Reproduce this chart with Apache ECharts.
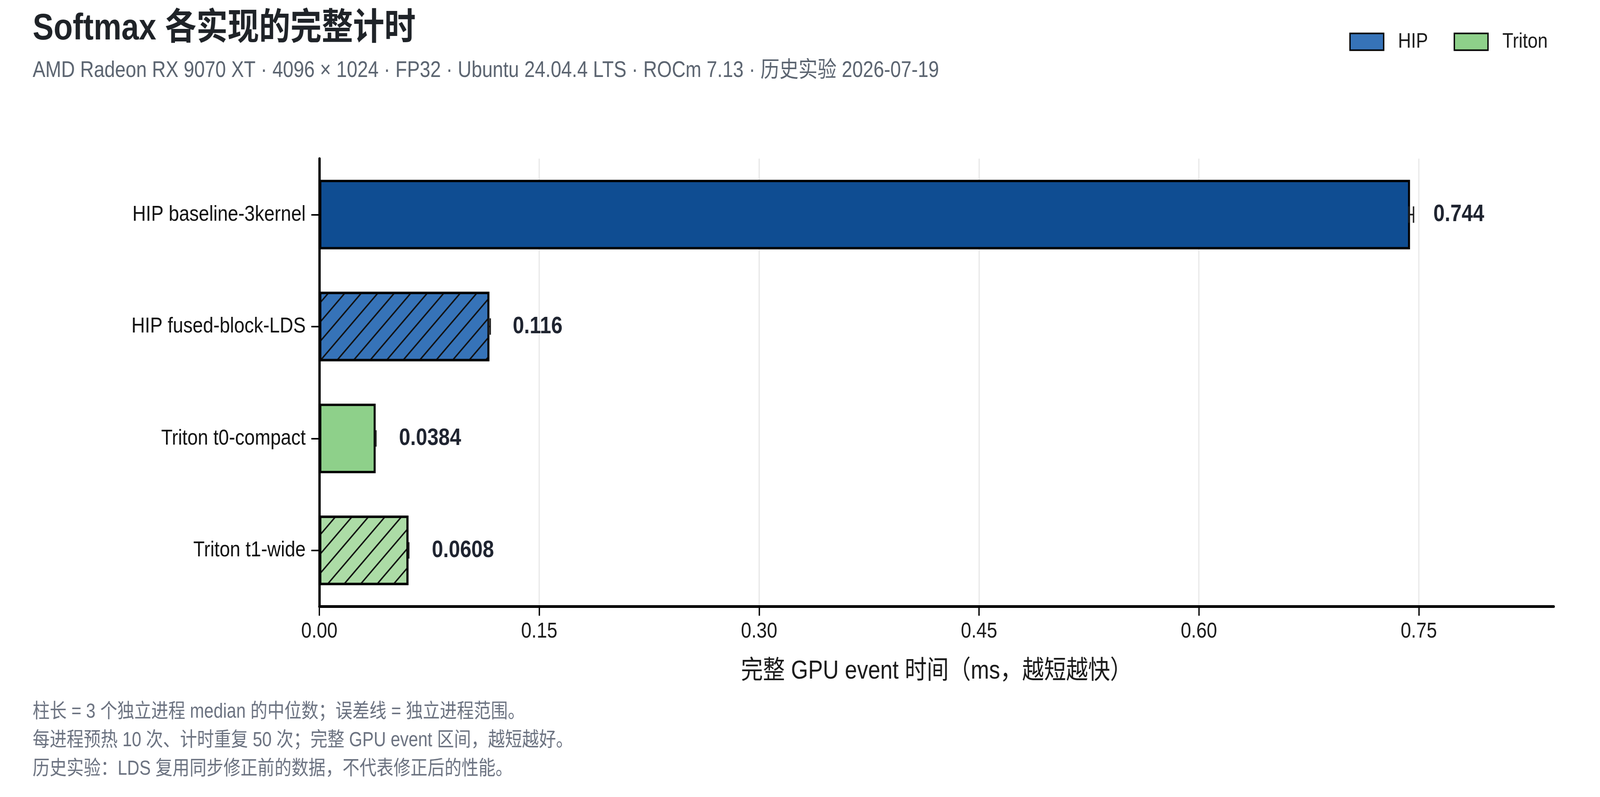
<!DOCTYPE html>
<html>
<head>
<meta charset="utf-8">
<title>Softmax 各实现的完整计时</title>
<script src="https://cdn.jsdelivr.net/npm/echarts@6/dist/echarts.min.js"></script>
<style>
    html, body { margin: 0; padding: 0; background: #ffffff; overflow: hidden; }
    #chart { width: 4800px; height: 2040px; transform-origin: 0 0; }
</style>
</head>
<body>
<div id="chart"></div>
<script>
    // 数据
    var categories = ['HIP baseline-3kernel', 'HIP fused-block-LDS', 'Triton t0-compact', 'Triton t1-wide'];
    var groups = ['HIP', 'HIP', 'Triton', 'Triton'];
    var medians = [0.744, 0.116, 0.0384, 0.0608];
    var valueLabels = ['0.744', '0.116', '0.0384', '0.0608'];
    var errLow = [0.7432, 0.1153, 0.0381, 0.0606];
    var errHigh = [0.7464, 0.1166, 0.0386, 0.0610];
    var xTicks = [0, 0.15, 0.30, 0.45, 0.60, 0.75];

    var fills = ['#0f4d92', '#3673b8', '#8ed08a', '#acdca6'];
    var hatched = [false, true, false, true];

    var FONT = '"Liberation Sans", "Noto Sans CJK SC", sans-serif';

    // 参考图按 4800x2040 排版，窗口不同就整体拉伸
    var box = document.getElementById('chart');
    box.style.transform = 'scale(' + (window.innerWidth / 4800) + ',' + (window.innerHeight / 2040) + ')';

    var hatch = {
        symbol: 'rect',
        symbolSize: 1,
        dashArrayX: [1, 0],
        dashArrayY: [4, 31],
        rotation: -Math.PI / 4,
        color: '#111111'
    };

    function barData(group) {
        return medians.map(function (v, i) {
            if (groups[i] !== group) return '-';
            var item = {
                value: v,
                itemStyle: { color: fills[i] },
                label: { formatter: valueLabels[i] }
            };
            if (hatched[i]) item.itemStyle.decal = hatch;
            return item;
        });
    }

    var errData = categories.map(function (c, i) {
        return [i, errLow[i], errHigh[i]];
    });

    var gridLines = xTicks.slice(1).map(function (v) { return { xAxis: v }; });

    var chart = echarts.init(box);

    var labelStyle = {
        show: true, position: 'right', distance: 70,
        fontSize: 61, fontWeight: 'bold', color: '#1f2430', fontFamily: FONT
    };

    var option = {
        backgroundColor: '#ffffff',
        animation: false,
        textStyle: { fontFamily: FONT },
        title: [
            {
                text: 'Softmax 各实现的完整计时',
                left: 98, top: 28, padding: 0,
                textStyle: { fontSize: 94, lineHeight: 94, fontWeight: 'bold', color: '#1f2328', fontFamily: FONT }
            },
            {
                text: 'AMD Radeon RX 9070 XT · 4096 × 1024 · FP32 · Ubuntu 24.04.4 LTS · ROCm 7.13 · 历史实验 2026-07-19',
                left: 98, top: 153, padding: 0,
                textStyle: { fontSize: 57, lineHeight: 57, fontWeight: 'normal', color: '#5b6470', fontFamily: FONT }
            },
            {
                text: '柱长 = 3 个独立进程 median 的中位数；误差线 = 独立进程范围。\n每进程预热 10 次、计时重复 50 次；完整 GPU event 区间，越短越好。\n历史实验：LDS 复用同步修正前的数据，不代表修正后的性能。',
                left: 98, top: 1786, padding: 0,
                textStyle: { fontSize: 51, fontWeight: 'normal', color: '#6b7280', lineHeight: 73, fontFamily: FONT }
            }
        ],
        legend: {
            right: 157, top: 80, padding: 0,
            itemWidth: 101, itemHeight: 43,
            itemGap: 77,
            textStyle: { fontSize: 54, lineHeight: 54, color: '#1a1a1a', fontFamily: FONT, padding: [0, 0, 0, 38] },
            data: [
                { name: 'HIP', icon: 'rect', itemStyle: { color: '#3673b8', borderColor: '#000', borderWidth: 4 } },
                { name: 'Triton', icon: 'rect', itemStyle: { color: '#8ed08a', borderColor: '#000', borderWidth: 4 } }
            ]
        },
        grid: { left: 958, right: 139, top: 406, bottom: 488, containLabel: false },
        xAxis: {
            type: 'value',
            min: 0, max: 0.842, interval: 0.15,
            name: '完整 GPU event 时间（ms，越短越快）',
            nameLocation: 'middle',
            nameGap: 134,
            nameTextStyle: { fontSize: 66, color: '#1a1a1a', fontFamily: FONT },
            axisLine: { show: true, lineStyle: { color: '#000', width: 7 } },
            axisTick: { show: true, length: 24, customValues: xTicks, lineStyle: { color: '#000', width: 4 } },
            axisLabel: {
                fontSize: 56, color: '#1a1a1a', margin: 37, fontFamily: FONT,
                customValues: xTicks,
                formatter: function (v) { return v.toFixed(2); }
            },
            splitLine: { show: false }
        },
        yAxis: {
            type: 'category',
            data: categories,
            inverse: true,
            axisLine: { show: true, lineStyle: { color: '#000', width: 7 } },
            axisTick: { show: true, alignWithLabel: true, length: 24, lineStyle: { color: '#000', width: 4 } },
            axisLabel: { fontSize: 56, color: '#111111', margin: 41, fontFamily: FONT },
            splitLine: { show: false }
        },
        series: [
            {
                name: 'HIP', type: 'bar',
                barWidth: 178, barGap: '-100%',
                itemStyle: { color: '#3673b8', borderColor: '#000', borderWidth: 6 },
                label: labelStyle,
                markLine: {
                    silent: true, symbol: 'none', z: 0,
                    label: { show: false },
                    lineStyle: { color: '#e5e5e5', width: 3, type: 'solid' },
                    data: gridLines
                },
                data: barData('HIP')
            },
            {
                name: 'Triton', type: 'bar',
                barWidth: 178, barGap: '-100%',
                itemStyle: { color: '#8ed08a', borderColor: '#000', borderWidth: 6 },
                label: labelStyle,
                data: barData('Triton')
            },
            {
                name: 'range', type: 'custom',
                encode: { x: [1, 2], y: 0 },
                z: 5,
                renderItem: function (params, api) {
                    var y = api.value(0);
                    var p0 = api.coord([api.value(1), y]);
                    var p1 = api.coord([api.value(2), y]);
                    var h = 21;
                    var st = { stroke: '#1a1a1a', lineWidth: 4 };
                    return {
                        type: 'group',
                        children: [
                            { type: 'line', shape: { x1: p0[0], y1: p0[1], x2: p1[0], y2: p1[1] }, style: st },
                            { type: 'line', shape: { x1: p0[0], y1: p0[1] - h, x2: p0[0], y2: p0[1] + h }, style: st },
                            { type: 'line', shape: { x1: p1[0], y1: p1[1] - h, x2: p1[0], y2: p1[1] + h }, style: st }
                        ]
                    };
                },
                data: errData
            }
        ]
    };

    chart.setOption(option);
</script>
</body>
</html>
